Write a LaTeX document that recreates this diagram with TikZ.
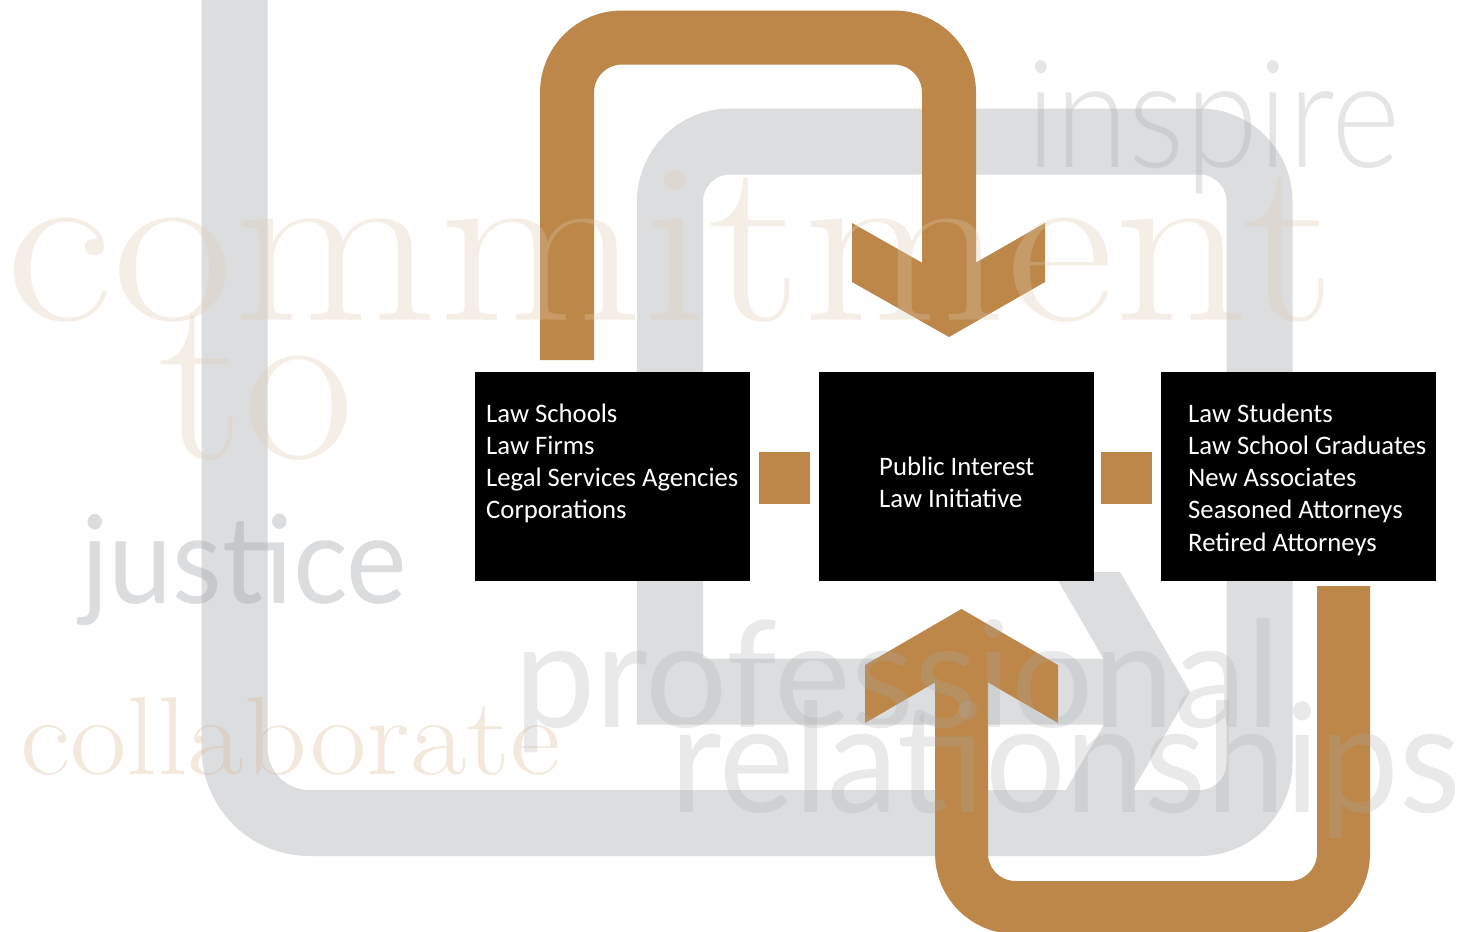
\documentclass[tikz,border=0pt]{standalone}
\usepackage{graphicx}
\usepackage{fontspec}
\newfontfamily\boxfont{Carlito}
\newfontfamily\wordfont{Lato}
\newfontfamily\thinfont{Lato Light}
\definecolor{bronze}{RGB}{188,135,73}
\definecolor{framegray}{RGB}{220,221,223}
\definecolor{beigeword}{RGB}{222,202,175}
\definecolor{tanword}{RGB}{215,180,140}
\definecolor{grayword}{RGB}{160,162,166}
\definecolor{lightword}{RGB}{170,171,173}
\tikzset{
  blackbox/.style={rectangle, fill=black, draw=none, minimum width=275pt, minimum height=209pt, inner sep=0pt},
  bronzesq/.style={rectangle, fill=bronze, draw=none, minimum width=51pt, minimum height=52pt, inner sep=0pt},
  boxtext/.style={text=white, inner sep=0pt, anchor=base west, font=\boxfont\fontsize{26.7}{32.3}\selectfont},
  serifword/.style={inner sep=0pt, anchor=base west},
  sansword/.style={inner sep=0pt, anchor=base west},
  framepath/.style={draw=framegray, line width=66pt},
  bronzepath/.style={draw=bronze, line width=54pt},
}
\begin{document}
\begin{tikzpicture}[x=1pt,y=-1pt]
\useasboundingbox (0,0) rectangle (1460,932);
\clip (0,0) rectangle (1460,932);
\fill[white] (0,0) rectangle (1460,932);

% grey frame
\coordinate (g0) at (234.5,-40);
\coordinate (g1) at (234.5,823);
\coordinate (g2) at (1259.5,823);
\coordinate (g3) at (1259.5,141.5);
\coordinate (g4) at (670,141.5);
\coordinate (g5) at (670,691.5);
\coordinate (g6) at (1123,691.5);
\draw[framepath] (g0) [rounded corners=75pt] -- (g1) [rounded corners=60pt] -- (g2) -- (g3) -- (g4) [sharp corners] -- (g5) -- (g6);
\fill[framegray] (1053,572) -- (1120,572) -- (1190,692) -- (1120,812) -- (1053,812) -- (1123,692) -- cycle;

% boxes
\node[blackbox] (left) at (612.5,476.5) {};
\node[blackbox] (mid) at (956.5,476.5) {};
\node[blackbox] (right) at (1298.5,476.5) {};
\node[bronzesq] (sqa) at (784.5,478) {};
\node[bronzesq] (sqb) at (1126.5,478) {};

% bronze arrows
\coordinate (a0) at (567,360);
\coordinate (a1) at (567,37.5);
\coordinate (a2) at (949,37.5);
\coordinate (a3) at (949,295);
\draw[bronzepath, rounded corners=55pt] (a0) -- (a1) -- (a2) -- (a3);
\fill[bronze] (852,223) -- (949,278) -- (1045,223) -- (1045,282) -- (949,337) -- (852,282) -- cycle;

\coordinate (b0) at (961.5,650);
\coordinate (b1) at (961.5,907.5);
\coordinate (b2) at (1343.5,907.5);
\coordinate (b3) at (1343.5,586);
\draw[bronzepath, line width=53pt, rounded corners=54pt] (b0) -- (b1) -- (b2) -- (b3);
\fill[bronze] (961.5,609) -- (1058,665) -- (1058,723) -- (961.5,667) -- (865,723) -- (865,665) -- cycle;

% box texts
\node[boxtext] (ltext) at (486,422) {\begin{tabular}[t]{@{}l@{}}Law Schools\\Law Firms\\Legal Services Agencies\\Corporations\end{tabular}};
\node[boxtext] (mtext) at (879,475) {\begin{tabular}[t]{@{}l@{}}Public Interest\\Law Initiative\end{tabular}};
\node[boxtext] (rtext) at (1188,422) {\begin{tabular}[t]{@{}l@{}}Law Students\\Law School Graduates\\New Associates\\Seasoned Attorneys\\Retired Attorneys\end{tabular}};

% background words
\node[serifword, text=beigeword, text opacity=0.3, font=\fontsize{232}{232}\selectfont] (w1) at (5,320) {\scalebox{1.14}[1]{commitment}};
\node[serifword, text=beigeword, text opacity=0.3, font=\fontsize{232}{232}\selectfont] (w2) at (158,458) {\scalebox{1.04}[1]{to}};
\node[serifword, text=tanword, text opacity=0.3, font=\fontsize{111}{111}\selectfont] (w3) at (20,774) {\scalebox{1.107}[1]{collaborate}};
\node[sansword, text=grayword, text opacity=0.37, font=\wordfont\fontsize{122}{122}\selectfont] (w4) at (81,603) {\scalebox{0.94}[1]{justice}};
\node[sansword, text=lightword, text opacity=0.3, font=\thinfont\fontsize{150}{150}\selectfont] (w5) at (1026,167) {\scalebox{0.885}[1]{inspire}};
\node[sansword, text=lightword, text opacity=0.25, font=\wordfont\fontsize{148}{148}\selectfont] (w6) at (514,727) {\scalebox{0.98}[1]{professional}};
\node[sansword, text=lightword, text opacity=0.25, font=\wordfont\fontsize{152}{152}\selectfont] (w7) at (670,812) {\scalebox{0.935}[1]{relationships}};
\end{tikzpicture}
\end{document}
